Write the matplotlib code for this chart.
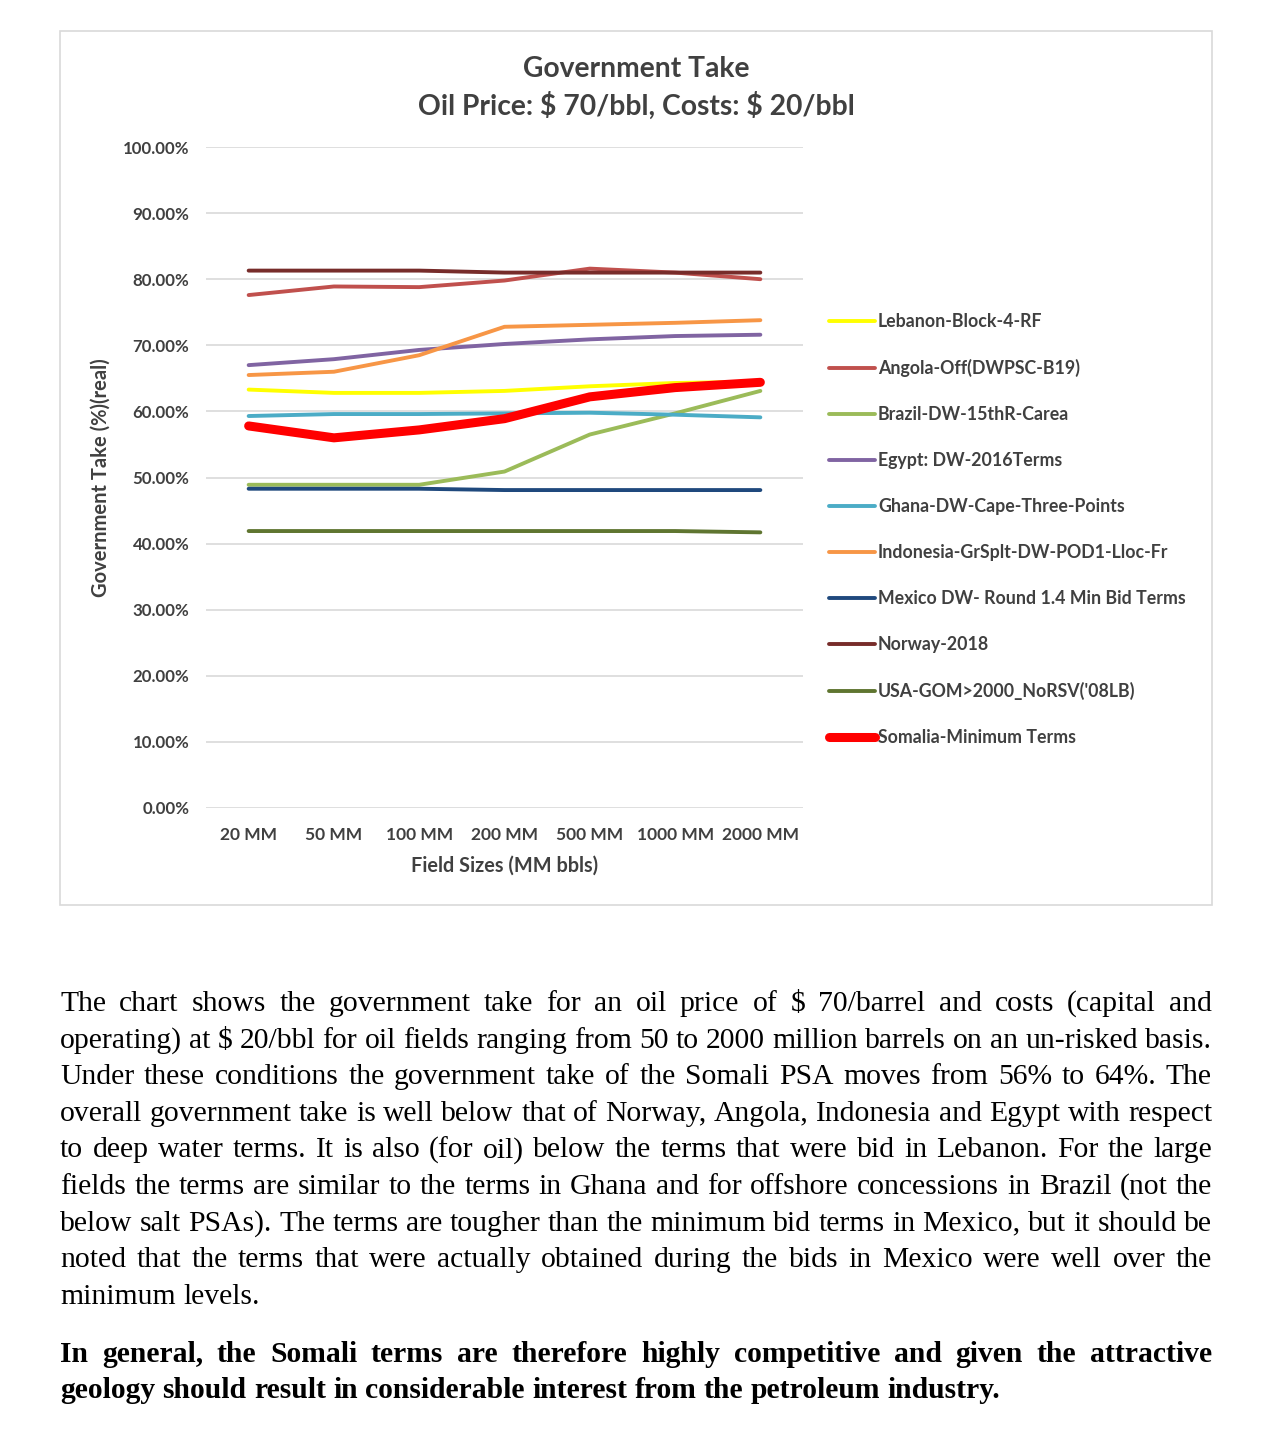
import matplotlib
matplotlib.use("Agg")
import matplotlib.pyplot as plt
from matplotlib.patches import Rectangle
from matplotlib.ticker import FuncFormatter

W, H = 1287, 1443

field_sizes = ["20 MM", "50 MM", "100 MM", "200 MM", "500 MM", "1000 MM", "2000 MM"]

lebanon = [63.3, 62.8, 62.8, 63.1, 63.8, 64.3, 64.5]
angola = [77.6, 78.9, 78.8, 79.8, 81.6, 81.0, 80.0]
brazil = [48.9, 48.9, 48.9, 50.9, 56.5, 59.7, 63.1]
egypt = [67.0, 67.9, 69.3, 70.2, 70.9, 71.4, 71.6]
ghana = [59.3, 59.6, 59.6, 59.7, 59.8, 59.5, 59.1]
indonesia = [65.5, 66.0, 68.5, 72.8, 73.1, 73.4, 73.8]
mexico = [48.3, 48.3, 48.3, 48.1, 48.1, 48.1, 48.1]
norway = [81.3, 81.3, 81.3, 81.0, 81.0, 81.0, 81.0]
usa = [41.9, 41.9, 41.9, 41.9, 41.9, 41.9, 41.7]
somalia = [57.8, 56.0, 57.2, 58.9, 62.2, 63.6, 64.4]

series = [
    ("Lebanon-Block-4-RF", lebanon, "#FFFF00", 2.8),
    ("Angola-Off(DWPSC-B19)", angola, "#C0504D", 2.8),
    ("Brazil-DW-15thR-Carea", brazil, "#9BBB59", 2.8),
    ("Egypt: DW-2016Terms", egypt, "#8064A2", 2.8),
    ("Ghana-DW-Cape-Three-Points", ghana, "#4BACC6", 2.8),
    ("Indonesia-GrSplt-DW-POD1-Lloc-Fr", indonesia, "#F79646", 2.8),
    ("Mexico DW- Round 1.4 Min Bid Terms", mexico, "#1F497D", 2.8),
    ("Norway-2018", norway, "#772C2A", 2.8),
    ("USA-GOM>2000_NoRSV('08LB)", usa, "#5F7530", 2.8),
    ("Somalia-Minimum Terms", somalia, "#FF0000", 6.5),
]

para_lines = [
    "The chart shows the government take for an oil price of $ 70/barrel and costs (capital and",
    "operating) at $ 20/bbl for oil fields ranging from 50 to 2000 million barrels on an un-risked basis.",
    "Under these conditions the government take of the Somali PSA moves from 56% to 64%.  The",
    "overall government take is well below that of Norway, Angola, Indonesia and Egypt with respect",
    "to deep water terms.  It is also (for oil) below the terms that were bid in Lebanon.  For the large",
    "fields the terms are similar to the terms in Ghana and for offshore concessions in Brazil (not the",
    "below salt PSAs).  The terms are tougher than the minimum bid terms in Mexico, but it should be",
    "noted that the terms that were actually obtained during the bids in Mexico were well over the",
    "minimum levels.",
]
bold_lines = [
    "In general, the Somali terms are therefore highly competitive and given the attractive",
    "geology should result in considerable interest from the petroleum industry.",
]

sans = ["Lato", "DejaVu Sans"]
serif = ["Liberation Serif", "DejaVu Serif"]
grey = "#404040"

fig = plt.figure(figsize=(W / 100, H / 100), dpi=100)
fig.patch.set_facecolor("white")

# chart frame
fig.patches.append(Rectangle((60 / W, 1 - 905 / H), 1152 / W, 874 / H,
                             transform=fig.transFigure, fill=False,
                             edgecolor="#D9D9D9", linewidth=1.2))

ax = fig.add_axes([206 / W, 1 - 808 / H, 597 / W, 661 / H])
x = range(len(field_sizes))
for name, vals, color, lw in series:
    ax.plot(x, vals, color=color, lw=lw, label=name, solid_capstyle="round")

ax.set_xlim(-0.5, len(field_sizes) - 0.5)
ax.set_ylim(0, 100)
ax.set_yticks(range(0, 101, 10))
ax.yaxis.set_major_formatter(FuncFormatter(lambda v, p: f"{v:.2f}%"))
ax.set_xticks(list(x))
ax.set_xticklabels(field_sizes)
ax.grid(axis="y", color="#D9D9D9", lw=1.2)
ax.set_axisbelow(True)
for s in ax.spines.values():
    s.set_visible(False)
ax.tick_params(axis="y", length=0, pad=12, labelsize=12.2, labelcolor=grey)
ax.tick_params(axis="x", length=0, pad=14, labelsize=12.5, labelcolor=grey)
for lab in ax.get_xticklabels() + ax.get_yticklabels():
    lab.set_family(sans)
    lab.set_fontweight("bold")

ax.set_xlabel("Field Sizes (MM bbls)", family=sans, fontsize=14.3, fontweight="bold",
              color=grey, labelpad=9)
fig.text(101 / W, 1 - 478 / H, "Government Take (%)(real)", rotation=90, family=sans,
         fontsize=14.5, fontweight="bold", color=grey, ha="center", va="center")

fig.text(636 / W, 1 - 69 / H, "Government Take", family=sans, fontsize=20.3,
         fontweight="bold", color=grey, ha="center", va="center")
fig.text(636 / W, 1 - 106 / H, "Oil Price: $ 70/bbl, Costs: $ 20/bbl", family=sans,
         fontsize=20.3, fontweight="bold", color=grey, ha="center", va="center",
         parse_math=False)

leg = fig.legend(loc="upper left", bbox_to_anchor=(829 / W, 1 - 313 / H), frameon=False,
                 handlelength=2.6, handletextpad=0.15, labelspacing=1.63, borderpad=0,
                 borderaxespad=0, prop={"family": sans, "size": 12.8, "weight": "bold"})
for t in leg.get_texts():
    t.set_color(grey)


# justified paragraph text
renderer = fig.canvas.get_renderer()
left, right = 60 / W, 1212 / W


def put_line(line, y, weight, justify):
    words = line.split()
    objs = [fig.text(0, y, w, family=serif, fontsize=21.3, fontweight=weight,
                     color="black", va="center", parse_math=False) for w in words]
    widths = [o.get_window_extent(renderer).width / W for o in objs]
    if justify and len(words) > 1:
        gap = (right - left - sum(widths)) / (len(words) - 1)
    else:
        gap = objs[0].get_fontsize() * 0.25 * 100 / 72 / W
    xpos = left
    for o, w in zip(objs, widths):
        o.set_x(xpos)
        xpos += w + gap


for i, line in enumerate(para_lines):
    put_line(line, 1 - (1004 + i * 36.6) / H, "normal", i < len(para_lines) - 1)
for i, line in enumerate(bold_lines):
    put_line(line, 1 - (1354 + i * 36.6) / H, "bold", i < len(bold_lines) - 1)

fig.savefig("out.png", dpi=100)
